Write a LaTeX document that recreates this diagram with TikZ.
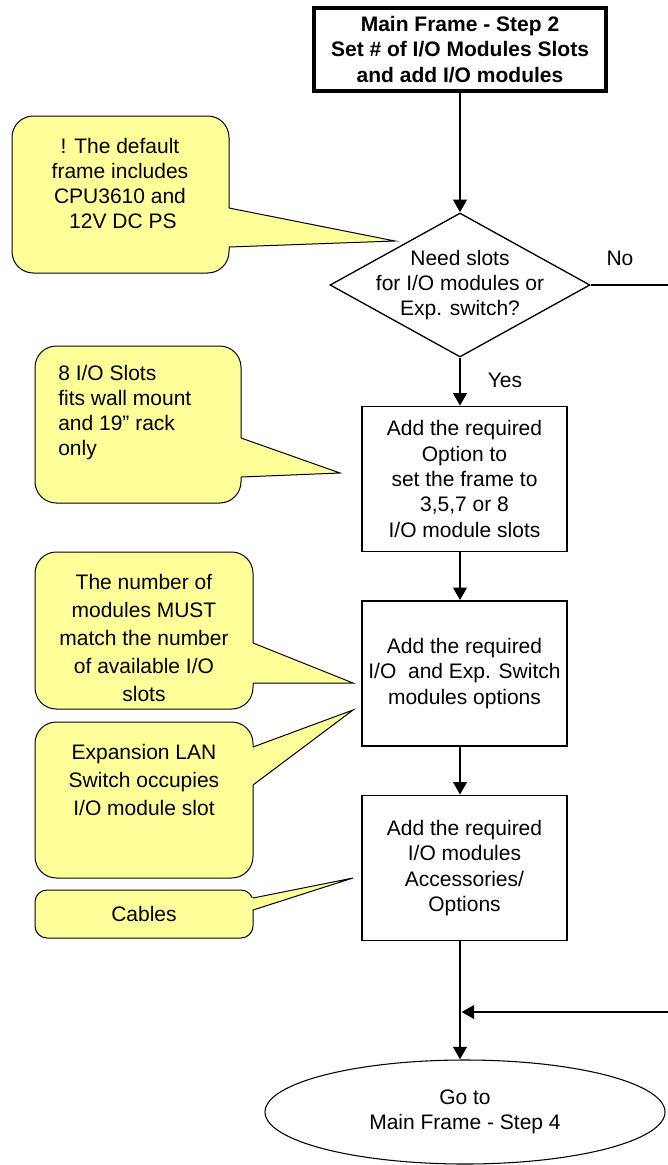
\documentclass[tikz,border=0pt]{standalone}
\usepackage{fontspec}
\setmainfont{Liberation Sans}
\usepackage{xcolor}
\definecolor{NoteYellow}{HTML}{FFFF99}
\usepackage{tikz}
\usetikzlibrary{arrows.meta,positioning,shapes.geometric}

\begin{document}
\begin{tikzpicture}[x=0.75pt,y=-0.75pt,
  every node/.style={font=\fontsize{15.75}{19}\selectfont},
  titlebox/.style={draw,line width=3pt,align=center,inner sep=0pt,minimum width=219pt,minimum height=62.25pt,font=\fontsize{15.75}{19}\selectfont\bfseries},
  stepbox/.style={draw,line width=1.1pt,align=center,inner sep=0pt,minimum width=153.75pt,minimum height=108.75pt},
  decision/.style={diamond,draw,line width=1pt,inner sep=0pt,minimum width=195pt,minimum height=108pt},
  endbox/.style={ellipse,draw,line width=0.8pt,align=center,inner sep=0pt,minimum width=300pt,minimum height=78pt},
  note/.style={draw,line width=0.75pt,fill=NoteYellow,rounded corners=16pt,align=center,minimum width=163.5pt,minimum height=117.75pt},
  notetext/.style={align=center,inner sep=0pt},
  noteline/.style={line width=0.75pt},
  lbl/.style={inner sep=0pt},
  arr/.style={-{Triangle[length=9.5pt,width=10pt]},line width=2.2pt},
  noline/.style={line width=1.2pt}
]
  \useasboundingbox (0,0) rectangle (668,1165);

  \node[titlebox] (title) at (460,49.5) {Main Frame - Step 2\\Set \# of I/O Modules Slots\\and add I/O modules};
  \node[decision,label={[align=center,inner sep=0pt]center:Need slots\\for I/O modules or\\Exp. switch?}] (need) at (460,285) {};
  \node[stepbox] (slots) at (464.5,479) {Add the required\\Option to\\set the frame to\\3,5,7 or 8\\I/O module slots};
  \node[stepbox,below=36pt of slots] (iomods) {Add the required\\I/O\ \ and Exp. Switch\\modules options};
  \node[stepbox,below=36pt of iomods] (access) {Add the required\\I/O modules\\Accessories/\\Options};
  \node[endbox] (goto) at (465,1112) {Go to\\Main Frame - Step 4};
  \node[lbl] (yes) at (505,380) {Yes};
  \node[lbl] (no) at (620,258) {No};
  \coordinate (nobend) at (700,285);
  \coordinate (noback) at (700,1012);
  \coordinate (join) at (460,1012);

  \draw[arr] (title) -- (need);
  \draw[arr] (need) -- (need |- slots.north);
  \draw[arr] (slots.south -| need) -- (iomods.north -| need);
  \draw[arr] (iomods.south -| need) -- (access.north -| need);
  \draw[arr] (access.south -| need) -- (goto.north -| need);
  \draw[noline] (need.east) -- (nobend) -- (noback);
  \draw[arr] (noback) -- ([xshift=1.1pt]join);

  % callouts
  \node[note,minimum width=162.75pt] (note1) at (120.5,194.5) {};
  \fill[NoteYellow] (229,208) -- (395,241) -- (229,247) -- (220,247) -- (220,208) -- cycle;
  \draw[noteline] (229,208) -- (395,241) -- (229,247);
  \node[notetext,font=\fontsize{15.75}{18.75}\selectfont] (note1t) at (120,183) {! The default\\frame includes\\CPU3610 and\\\mbox{}\ 12V DC PS};

  \node[note,minimum width=154.5pt] (note2) at (138,424.5) {};
  \fill[NoteYellow] (241,438) -- (340,473) -- (241,477) -- (232,477) -- (232,438) -- cycle;
  \draw[noteline] (241,438) -- (340,473) -- (241,477);
  \node[notetext,align=left,anchor=west,font=\fontsize{15.75}{18.75}\selectfont] (note2t) at (58,412.5) {8 I/O Slots\\fits wall mount\\and 19” rack\\only};

  \node[note] (note3) at (144,630.5) {};
  \fill[NoteYellow] (253,643) -- (353,683) -- (253,683) -- (244,683) -- (244,643) -- cycle;
  \draw[noteline] (253,643) -- (353,683) -- (253,683);
  \node[notetext,font=\fontsize{15.75}{21}\selectfont] (note3t) at (144,637.5) {The number of\\modules MUST\\match the number\\of available I/O\\slots};

  \node[note,minimum height=117pt] (note4) at (144,800) {};
  \fill[NoteYellow] (253,747) -- (353,710) -- (253,785) -- (244,785) -- (244,747) -- cycle;
  \draw[noteline] (253,747) -- (353,710) -- (253,785);
  \node[notetext,font=\fontsize{15.75}{21}\selectfont] (note4t) at (144,780) {Expansion LAN\\Switch occupies\\I/O module slot};

  \node[note,minimum height=36pt,rounded corners=9pt] (note5) at (144,914) {Cables};
  \fill[NoteYellow] (253,898) -- (353,878) -- (253,910) -- (244,910) -- (244,898) -- cycle;
  \draw[noteline] (253,898) -- (353,878) -- (253,910);
\end{tikzpicture}
\end{document}
